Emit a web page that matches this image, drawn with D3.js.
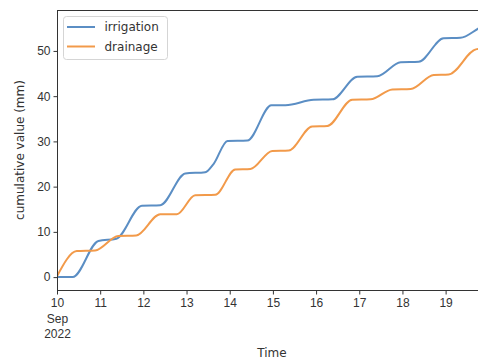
<!DOCTYPE html>
<html>
<head>
<meta charset="utf-8">
<script src="https://cdn.jsdelivr.net/npm/d3@7"></script>
<style>
  body { margin: 0; background: #fff; }
  svg { display: block; font-family: "DejaVu Sans", sans-serif; }
</style>
</head>
<body>
<div id="chart"></div>
<script>
// hours since 2022-09-10 00:00 and cumulative values (mm)
var irrigationHours = [0, 8.7, 23, 33, 47.2, 57.4, 71.3, 82.4, 87, 94.8, 105.8, 119.2, 127, 142.6, 153, 166.9, 178, 191, 201, 214.9, 224.2, 234.4, 239];
var irrigationValues = [0, 0, 8.0, 8.5, 15.8, 15.9, 22.9, 23.2, 25.0, 30.1, 30.2, 38.0, 38.0, 39.2, 39.3, 44.3, 44.4, 47.5, 47.6, 52.8, 52.9, 55.0, 56.0];
var drainageHours = [0, 11, 21.2, 34.1, 44, 57.4, 66.6, 76.8, 88, 99.1, 107.5, 119.6, 128.8, 141.8, 150.2, 164.1, 174.3, 186.4, 196.6, 209.4, 217.7, 233.3, 239];
var drainageValues = [0.2, 5.75, 5.9, 9.1, 9.2, 13.9, 13.9, 18.1, 18.2, 23.8, 23.9, 27.9, 28.0, 33.3, 33.4, 39.2, 39.3, 41.5, 41.6, 44.7, 44.8, 50.4, 50.5];
var seriesNames = ["irrigation", "drainage"];
var seriesColors = ["#5b8ec4", "#f29a4a"];
var yTicks = [0, 10, 20, 30, 40, 50];

var width = 478, height = 363;
var margin = {left: 57, top: 10, right: 487, bottom: 290};
var start = new Date(2022, 8, 10, 0, 0);

function toDates(hours) {
    return hours.map(function(h) { return new Date(start.getTime() + h * 3600000); });
}

var series = [
    {name: seriesNames[0], color: seriesColors[0], dates: toDates(irrigationHours), values: irrigationValues},
    {name: seriesNames[1], color: seriesColors[1], dates: toDates(drainageHours), values: drainageValues}
];

var x = d3.scaleTime()
    .domain([start, new Date(start.getTime() + 239 * 3600000)])
    .range([margin.left, margin.right]);
var y = d3.scaleLinear()
    .domain([-2.85, 59.05])
    .range([margin.bottom, margin.top]);

var svg = d3.select("#chart").append("svg")
    .attr("width", width)
    .attr("height", height);

svg.append("defs").append("clipPath").attr("id", "clip")
  .append("rect")
    .attr("x", margin.left).attr("y", margin.top)
    .attr("width", margin.right - margin.left)
    .attr("height", margin.bottom - margin.top);

var line = d3.line()
    .x(function(d) { return x(d[0]); })
    .y(function(d) { return y(d[1]); })
    .curve(d3.curveMonotoneX);

var plot = svg.append("g").attr("clip-path", "url(#clip)");
series.forEach(function(s) {
    var pts = s.dates.map(function(d, i) { return [d, s.values[i]]; });
    plot.append("path")
        .datum(pts)
        .attr("d", line)
        .attr("fill", "none")
        .attr("stroke", s.color)
        .attr("stroke-width", 2);
});

// frame
svg.append("rect")
    .attr("x", margin.left + 0.5).attr("y", margin.top + 0.5)
    .attr("width", margin.right - margin.left)
    .attr("height", margin.bottom - margin.top)
    .attr("fill", "none")
    .attr("stroke", "#333")
    .attr("stroke-width", 1);

// y axis
var yAxis = d3.axisLeft(y).tickValues(yTicks).tickSize(4).tickPadding(3);
var yg = svg.append("g")
    .attr("transform", "translate(" + (margin.left + 0.5) + ",0)")
    .call(yAxis);
yg.select(".domain").remove();
yg.selectAll("line").attr("stroke", "#333");
yg.selectAll("text").attr("font-size", 12).attr("fill", "#333");

// x axis
var dayTicks = d3.range(10, 20).map(function(d) { return new Date(2022, 8, d); });
var xAxis = d3.axisBottom(x).tickValues(dayTicks).tickSize(4).tickPadding(4)
    .tickFormat(function(d) { return d3.timeFormat("%-d")(d); });
var xg = svg.append("g")
    .attr("transform", "translate(0," + (margin.bottom + 0.5) + ")")
    .call(xAxis);
xg.select(".domain").remove();
xg.selectAll("line").attr("stroke", "#333");
xg.selectAll("text").attr("font-size", 12).attr("fill", "#333");

var first = xg.select(".tick text");
first.append("tspan").attr("x", 0).attr("dy", "1.3em").text("Sep");
first.append("tspan").attr("x", 0).attr("dy", "1.3em").text("2022");

svg.append("text")
    .attr("x", (margin.left + margin.right) / 2)
    .attr("y", 357)
    .attr("text-anchor", "middle")
    .attr("font-size", 12)
    .attr("fill", "#333")
    .text("Time");

svg.append("text")
    .attr("transform", "translate(24," + ((margin.top + margin.bottom) / 2) + ") rotate(-90)")
    .attr("text-anchor", "middle")
    .attr("font-size", 12)
    .attr("fill", "#333")
    .text("cumulative value (mm)");

// legend
var legend = svg.append("g").attr("transform", "translate(63.5,16.5)");
legend.append("rect")
    .attr("width", 104)
    .attr("height", 43)
    .attr("rx", 3)
    .attr("fill", "#fff")
    .attr("fill-opacity", 0.8)
    .attr("stroke", "#d5d5d5");
var items = legend.selectAll(".item")
    .data(series)
    .enter().append("g")
    .attr("class", "item")
    .attr("transform", function(d, i) { return "translate(0," + (10.5 + i * 19.5) + ")"; });
items.append("line")
    .attr("x1", 3.5).attr("x2", 31.5)
    .attr("stroke", function(d) { return d.color; })
    .attr("stroke-width", 2);
items.append("text")
    .attr("x", 41)
    .attr("dy", "0.35em")
    .attr("font-size", 12)
    .attr("fill", "#333")
    .text(function(d) { return d.name; });
</script>
</body>
</html>
